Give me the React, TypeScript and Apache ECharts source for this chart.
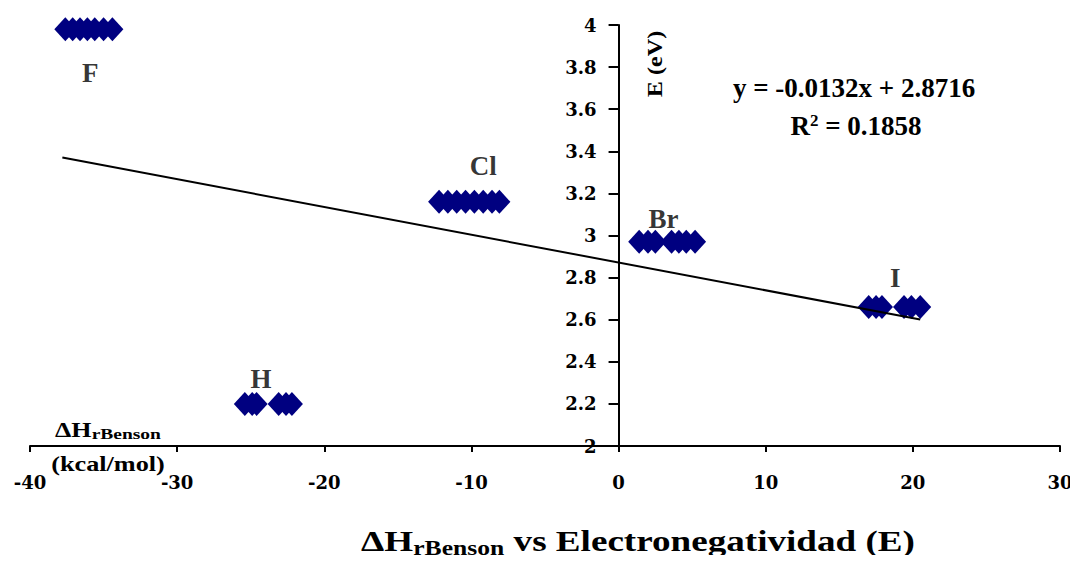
import React, { useEffect, useRef } from "react";
import * as echarts from "echarts";

const xTicks = [-40, -30, -20, -10, 0, 10, 20, 30];
const yTicks = [2, 2.2, 2.4, 2.6, 2.8, 3, 3.2, 3.4, 3.6, 3.8, 4];

const fX = [-37.6, -37.1, -36.6, -36.1, -35.6, -35.0, -34.4];
const fY = 3.98;
const clX = [-12.2, -11.6, -11.0, -10.4, -9.8, -9.2, -8.6, -8.1];
const clY = 3.16;
const brX = [1.4, 2.0, 2.5, 3.6, 4.1, 4.6, 5.2];
const brY = 2.97;
const iX = [17.0, 17.5, 17.9, 19.4, 19.9, 20.5];
const iY = 2.66;
const hX = [-25.4, -24.9, -24.6, -23.1, -22.6, -22.2];
const hY = 2.2;

const slope = -0.0132;
const intercept = 2.8716;
const trendX = [-37.8, 20.5];

const labelNames = ["F", "Cl", "Br", "I", "H"];
const labelX = [-35.9, -9.2, 3.05, 18.8, -24.3];
const labelY = [3.77, 3.33, 3.08, 2.8, 2.32];

const serif = "'Liberation Serif', 'DejaVu Serif', serif";
const wideSerif = "'DejaVu Serif', serif";

const GRID_LEFT = 30;
const GRID_RIGHT = 18;
const WIDTH = 1078;

export default function App() {
  const ref = useRef<HTMLDivElement>(null);
  useEffect(() => {
    if (!ref.current) return;
    const chart = echarts.init(ref.current, null, { renderer: "svg" });
    const pts: number[][] = [];
    fX.forEach((x) => pts.push([x, fY]));
    clX.forEach((x) => pts.push([x, clY]));
    brX.forEach((x) => pts.push([x, brY]));
    iX.forEach((x) => pts.push([x, iY]));
    hX.forEach((x) => pts.push([x, hY]));
    const trend = trendX.map((x) => [x, slope * x + intercept]);
    const labels = labelNames.map((n, i) => ({ name: n, value: [labelX[i], labelY[i]] }));
    const xMin = xTicks[0];
    const xMax = xTicks[xTicks.length - 1];
    const plotW = WIDTH - GRID_LEFT - GRID_RIGHT;
    const zeroOffset = ((0 - xMin) / (xMax - xMin)) * plotW;
    chart.setOption({
      animation: false,
      backgroundColor: "#ffffff",
      grid: { left: GRID_LEFT, right: GRID_RIGHT, top: 25, bottom: 117, containLabel: false },
      xAxis: {
        type: "value",
        min: xMin,
        max: xMax,
        interval: 10,
        splitLine: { show: false },
        axisLine: { onZero: false, lineStyle: { color: "#000", width: 2 } },
        axisTick: { show: true, length: 6, lineStyle: { color: "#000", width: 2 } },
        axisLabel: {
          margin: 27,
          color: "#000",
          fontFamily: wideSerif,
          fontWeight: "bold",
          fontSize: 18,
        },
      },
      yAxis: {
        type: "value",
        min: yTicks[0],
        max: yTicks[yTicks.length - 1],
        interval: 0.2,
        offset: -zeroOffset,
        splitLine: { show: false },
        axisLine: { onZero: false, lineStyle: { color: "#000", width: 2 } },
        axisTick: { show: true, length: 10, lineStyle: { color: "#000", width: 2 } },
        axisLabel: {
          margin: 22,
          color: "#000",
          fontFamily: wideSerif,
          fontWeight: "bold",
          fontSize: 18,
          formatter: (v: number) => String(Math.round(v * 10) / 10),
        },
      },
      series: [
        {
          type: "scatter",
          data: pts,
          symbol: "diamond",
          symbolSize: [22, 24],
          itemStyle: { color: "#000080", opacity: 1 },
          z: 2,
        },
        {
          type: "line",
          data: trend,
          symbol: "none",
          lineStyle: { color: "#000", width: 2 },
          z: 3,
        },
        {
          type: "scatter",
          data: labels,
          symbolSize: 0,
          label: {
            show: true,
            position: "inside",
            formatter: "{b}",
            color: "#000",
            fontFamily: serif,
            fontWeight: "bold",
            fontSize: 27,
          },
          z: 4,
        },
      ],
      graphic: [
        {
          type: "text",
          x: 854,
          y: 88,
          style: {
            text: "y = -0.0132x + 2.8716",
            font: `bold 27px ${serif}`,
            fill: "#000",
            align: "center",
            verticalAlign: "middle",
          },
        },
        {
          type: "text",
          x: 856,
          y: 126,
          style: {
            text: "R{sup|2} = 0.1858",
            font: `bold 27px ${serif}`,
            fill: "#000",
            align: "center",
            verticalAlign: "middle",
            rich: {
              sup: { font: `bold 17px ${serif}`, fill: "#000", verticalAlign: "top", padding: [0, 0, 12, 0] },
            },
          },
        },
        {
          type: "text",
          x: 655,
          y: 64,
          rotation: Math.PI / 2,
          scaleX: 1.15,
          style: {
            text: "E (eV)",
            font: `bold 21px ${serif}`,
            fill: "#000",
            align: "center",
            verticalAlign: "middle",
          },
        },
        {
          type: "text",
          x: 108,
          y: 430,
          scaleX: 1.3,
          style: {
            text: "ΔH{sub|rBenson}",
            font: `bold 20px ${serif}`,
            fill: "#000",
            align: "center",
            verticalAlign: "middle",
            rich: {
              sub: { font: `bold 15px ${serif}`, fill: "#000", padding: [9, 0, 0, 0] },
            },
          },
        },
        {
          type: "text",
          x: 108,
          y: 464,
          scaleX: 1.25,
          style: {
            text: "(kcal/mol)",
            font: `bold 21px ${serif}`,
            fill: "#000",
            align: "center",
            verticalAlign: "middle",
          },
        },
        {
          type: "text",
          x: 638,
          y: 541,
          scaleX: 1.28,
          style: {
            text: "ΔH{sub|rBenson} vs Electronegatividad (E)",
            font: `bold 29px ${serif}`,
            fill: "#000",
            align: "center",
            verticalAlign: "middle",
            rich: {
              sub: { font: `bold 20px ${serif}`, fill: "#000", padding: [14, 0, 0, 0] },
            },
          },
        },
      ],
    });
    return () => chart.dispose();
  }, []);
  return <div ref={ref} style={{ width: 1078, height: 563, margin: -8 }} />;
}
